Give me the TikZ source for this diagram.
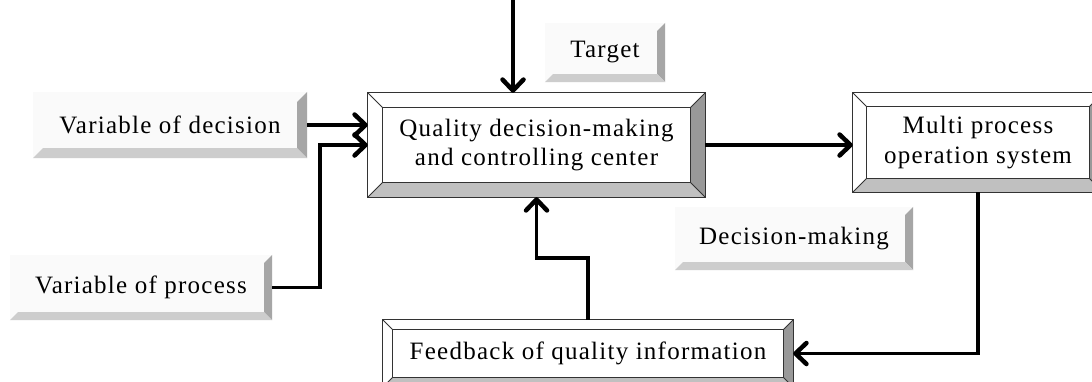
\documentclass[tikz,border=0pt]{standalone}
\usepackage{fontspec}
\setmainfont{Liberation Serif}[LetterSpace=5]
\usetikzlibrary{arrows.meta,calc}
\definecolor{rbev}{HTML}{999999}
\definecolor{bbev}{HTML}{C0C0C0}
\definecolor{lrbev}{HTML}{A6A6A6}
\definecolor{lbbev}{HTML}{CDCDCD}
\definecolor{face}{HTML}{FAFAFA}
\definecolor{edge}{HTML}{333333}
\tikzset{
  txt/.style={font=\fontsize{25}{29}\selectfont, align=center, text=black, inner sep=0pt},
  mainbox/.style={txt, fill=white, draw=none},
  labelbox/.style={txt, fill=face, draw=none},
  arr/.style={line width=3.5pt, -{Straight Barb[length=11pt,width=21pt,line width=4.5pt,round]}}
}
% bevelled box: name, bevel width
\newcommand\bevelbox[2]{%
  \fill[white] (#1.north west) -- (#1.north east) -- ($(#1.north east)+(-#2,#2)$) -- ($(#1.north west)+(#2,#2)$) -- cycle;
  \fill[white] (#1.north west) -- (#1.south west) -- ($(#1.south west)+(#2,-#2)$) -- ($(#1.north west)+(#2,#2)$) -- cycle;
  \fill[rbev] (#1.north east) -- (#1.south east) -- ($(#1.south east)+(-#2,-#2)$) -- ($(#1.north east)+(-#2,#2)$) -- cycle;
  \fill[bbev] (#1.south west) -- (#1.south east) -- ($(#1.south east)+(-#2,-#2)$) -- ($(#1.south west)+(#2,-#2)$) -- cycle;
  \draw[edge, line width=1pt] (#1.north west) rectangle (#1.south east);
  \draw[edge, line width=1pt] ($(#1.north west)+(#2,#2)$) rectangle ($(#1.south east)+(-#2,-#2)$);
  \draw[edge, line width=0.8pt] (#1.north west) -- ($(#1.north west)+(#2,#2)$)
     (#1.north east) -- ($(#1.north east)+(-#2,#2)$)
     (#1.south west) -- ($(#1.south west)+(#2,-#2)$)
     (#1.south east) -- ($(#1.south east)+(-#2,-#2)$);
}
% label box: name, bevel width (only right and bottom faces shaded)
\newcommand\labelbevel[2]{%
  \fill[lrbev] (#1.north east) -- (#1.south east) -- ($(#1.south east)+(-#2,-#2)$) -- ($(#1.north east)+(-#2,#2)$) -- cycle;
  \fill[lbbev] (#1.south west) -- (#1.south east) -- ($(#1.south east)+(-#2,-#2)$) -- ($(#1.south west)+(#2,-#2)$) -- cycle;
}
\begin{document}
\begin{tikzpicture}[x=1pt, y=-1pt]
\path[use as bounding box] (0,0) rectangle (1092,381);
\clip (0,0) rectangle (1092,381);
\fill[white] (0,0) rectangle (1092,381);

% label boxes
\node[labelbox, minimum width=120pt, minimum height=59pt] (target) at (605,52.5) {Target};
\labelbevel{target}{8}
\node[labelbox, minimum width=274pt, minimum height=66pt] (vdec) at (170,125) {Variable of decision};
\labelbevel{vdec}{10}
\node[labelbox, minimum width=262pt, minimum height=65pt] (vproc) at (141,287.5) {Variable of process};
\labelbevel{vproc}{8}
\node[labelbox, minimum width=238pt, minimum height=63pt] (dmak) at (794,238.5) {Decision-making};
\labelbevel{dmak}{8}

% main boxes
\node[mainbox, minimum width=337pt, minimum height=104pt] (main) at (536.5,145) {Quality decision-making\\and controlling center};
\bevelbox{main}{15}
\node[mainbox, minimum width=250pt, minimum height=99pt, font=\fontsize{25}{30}\selectfont] (multi) at (978,142.5) {Multi process\\operation system};
\bevelbox{multi}{14}
\node[mainbox, minimum width=410pt, minimum height=67pt] (fb) at (588,353.5) {Feedback of quality information};
\bevelbox{fb}{10}

% connectors
\coordinate (topin) at (513,-5);
\draw[arr] (topin) -- (topin |- main.north);
\draw[arr] (vdec.east) -- (vdec.east -| main.west);
\coordinate (j1) at (320,145);
\draw[arr] (vproc.east) -| (j1) -- (j1 -| main.west);
\draw[arr] (main.east) -- (main.east -| multi.west);
\draw[arr] (multi.south) |- (fb.east);
\coordinate (j2) at ($(main.south)+(0,61)$);
\draw[arr] (fb.north) |- (j2) -- (main.south);
\end{tikzpicture}
\end{document}
